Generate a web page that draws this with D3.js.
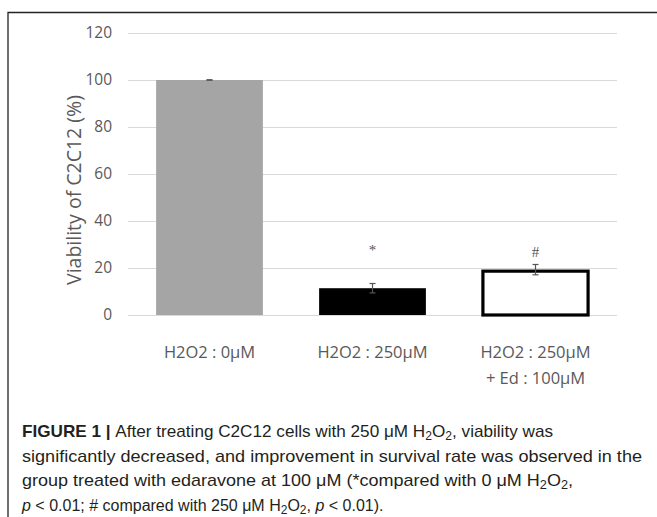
<!DOCTYPE html>
<html><head><meta charset="utf-8">
<script src="https://cdn.jsdelivr.net/npm/d3@7"></script>
<style>body{margin:0;background:#fff}svg{display:block}</style>
</head><body>
<svg id="c" width="657" height="517"></svg>
<script>
const categories = ["g0", "g250", "g250ed"];
const categoryLines = [["H2O2 : 0μM"], ["H2O2 : 250μM"], ["H2O2 : 250μM", "+ Ed : 100μM"]];
const values = [100, 11.4, 19.3];
const errors = [0.1, 2.0, 2.2];
const markers = ["", "*", "#"];
const yTicks = [0, 20, 40, 60, 80, 100, 120];
const fills = ["#a5a5a5", "#000000", "#ffffff"];

const svg = d3.select("#c");
// frame
svg.append("path").attr("d", "M8,517 V12.5 H657").attr("fill", "none").attr("stroke", "#222").attr("stroke-width", 1.3);

const x = d3.scaleBand().domain(categories).range([128, 617]).paddingInner(0.345).paddingOuter(0.1725);
const y = d3.scaleLinear().domain([0, 120]).range([315, 33]);

// grid
svg.append("g").selectAll("line").data(yTicks).join("line")
  .attr("x1", 128).attr("x2", 617).attr("y1", d => y(d) + 0.5).attr("y2", d => y(d) + 0.5)
  .attr("stroke", "#d9d9d9").attr("stroke-width", 1);

// y axis labels
const yAxis = d3.axisLeft(y).tickValues(yTicks).tickSize(0).tickPadding(0);
const ga = svg.append("g").attr("transform", "translate(112,0)").call(yAxis);
ga.select(".domain").remove();
ga.selectAll("text").attr("font-family", "'Open Sans', sans-serif").attr("font-size", 15.5).attr("fill", "#595959");

svg.append("text").attr("transform", "translate(81,190) rotate(-90)")
  .attr("text-anchor", "middle").attr("font-family", "'Open Sans', sans-serif").attr("font-size", 19.5).attr("fill", "#595959")
  .text("Viability of C2C12 (%)");

// bars
svg.append("g").selectAll("rect").data(values).join("rect")
  .attr("x", (d, i) => x(categories[i]) + (i === 2 ? 0.8 : 0))
  .attr("width", (d, i) => x.bandwidth() - (i === 2 ? 1.6 : 0))
  .attr("y", (d, i) => y(d) + (i === 2 ? 1.5 : 0))
  .attr("height", (d, i) => y(0) - y(d) - (i === 2 ? 1.5 : 0))
  .attr("fill", (d, i) => fills[i])
  .attr("stroke", (d, i) => i === 2 ? "#000" : "none")
  .attr("stroke-width", 3.2);

// error bars
const eb = svg.append("g").attr("stroke", "#555").attr("stroke-width", 1.2);
values.forEach((v, i) => {
  const cx = x(categories[i]) + x.bandwidth() / 2;
  const t = y(v + errors[i]), b = y(v - errors[i]);
  eb.append("line").attr("x1", cx).attr("x2", cx).attr("y1", t).attr("y2", b);
  eb.append("line").attr("x1", cx - 3).attr("x2", cx + 3).attr("y1", t).attr("y2", t);
  eb.append("line").attr("x1", cx - 3).attr("x2", cx + 3).attr("y1", b).attr("y2", b);
});

// markers
svg.append("g").selectAll("text").data(markers).join("text")
  .attr("x", (d, i) => x(categories[i]) + x.bandwidth() / 2)
  .attr("y", (d, i) => y(values[i] + errors[i]) - (i === 1 ? 29 : 7))
  .attr("text-anchor", "middle").attr("font-family", "'Liberation Serif', serif").attr("font-size", 15).attr("fill", "#555")
  .text(d => d);

// x labels
const xl = svg.append("g");
categoryLines.forEach((lines, i) => {
  const t = xl.append("text").attr("text-anchor", "middle").attr("font-family", "'Open Sans', sans-serif")
    .attr("font-size", 16.5).attr("fill", "#595959");
  lines.forEach((ln, j) => {
    t.append("tspan").attr("x", x(categories[i]) + x.bandwidth() / 2).attr("y", 358 + j * 26).text(ln);
  });
});

// caption
const capFont = "'Liberation Sans Narrow', 'Arial Narrow', 'Liberation Sans', sans-serif";
const capLines = [
  [["b", "FIGURE 1 | "], ["", "After treating C2C12 cells with 250 μM H"], ["s", "2"], ["", "O"], ["s", "2"], ["", ", viability was"]],
  [["", "significantly decreased, and improvement in survival rate was observed in the"]],
  [["", "group treated with edaravone at 100 μM (*compared with 0 μM H"], ["s", "2"], ["", "O"], ["s", "2"], ["", ","]],
  [["i", "p"], ["", " < 0.01; # compared with 250 μM H"], ["s", "2"], ["", "O"], ["s", "2"], ["", ", "], ["i", "p"], ["", " < 0.01)."]]
];
const capWidths = [531, 620, 551, 0];
const capSizes = [17, 17, 17, 16];
capLines.forEach((segs, li) => {
  const t = svg.append("text").attr("x", 22).attr("y", 437 + li * 24.5)
    .attr("font-family", capFont).attr("font-size", capSizes[li]).attr("fill", "#231f20");
  if (capWidths[li]) t.attr("textLength", capWidths[li]).attr("lengthAdjust", "spacingAndGlyphs");
  segs.forEach(([k, s]) => {
    const ts = t.append("tspan").text(s);
    if (k === "b") ts.attr("font-weight", "bold");
    if (k === "i") ts.attr("font-style", "italic");
    if (k === "s") ts.attr("font-size", 12).attr("baseline-shift", "-3");
  });
});
</script>
</body></html>
